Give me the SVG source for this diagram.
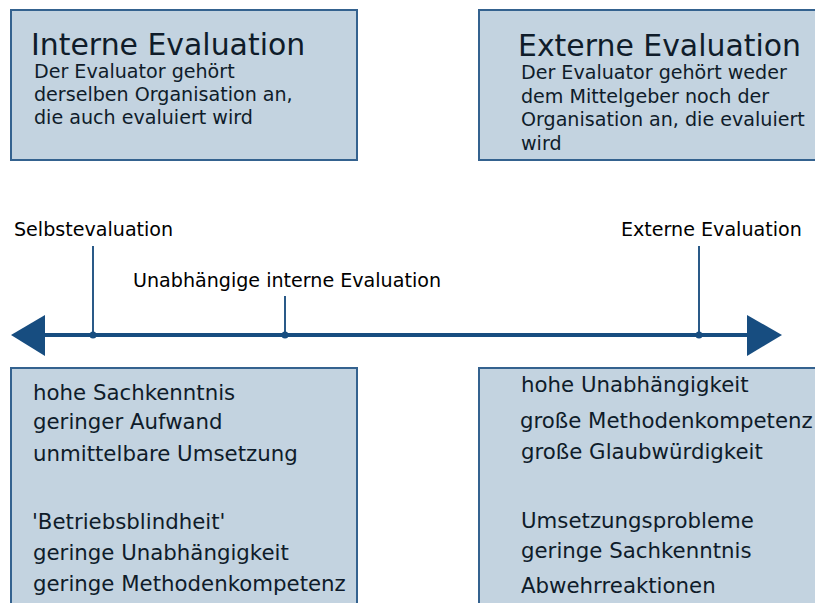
<svg xmlns="http://www.w3.org/2000/svg" width="815" height="603" viewBox="0 0 815 603">
<style>
.box{fill:#c3d3e0;stroke:#34628f;stroke-width:2}
.t{font-family:"DejaVu Sans",sans-serif;fill:#0f1c2a}
.title{font-size:29.9px}
.body{font-size:19.1px}
.lst{font-size:21.3px}
.lbl{font-family:"DejaVu Sans",sans-serif;font-size:19.1px;fill:#000}
.tick{stroke:#2a5a88;stroke-width:2}
</style>
<rect width="815" height="603" fill="#fff"/>
<g id="interne">
<rect class="box" x="11" y="10" width="346" height="150"/>
<text class="t title" x="31" y="55">Interne Evaluation</text>
<text class="t body" x="34" y="78">Der Evaluator gehört</text>
<text class="t body" x="34" y="101">derselben Organisation an,</text>
<text class="t body" x="34" y="124">die auch evaluiert wird</text>
</g>
<g id="externe">
<rect class="box" x="479" y="10" width="345" height="150"/>
<text class="t title" x="518" y="56">Externe Evaluation</text>
<text class="t body" x="521" y="79">Der Evaluator gehört weder</text>
<text class="t body" x="521" y="103">dem Mittelgeber noch der</text>
<text class="t body" x="521" y="126">Organisation an, die evaluiert</text>
<text class="t body" x="521" y="150">wird</text>
</g>
<g id="connectors">
<line x1="40" y1="335" x2="752" y2="335" stroke="#174d80" stroke-width="4"/>
<polygon points="11,335 45,315 45,356" fill="#174d80"/>
<polygon points="782,335 747,315 747,356" fill="#174d80"/>
<line class="tick" x1="93" y1="246" x2="93" y2="335"/>
<line class="tick" x1="285" y1="296" x2="285" y2="335"/>
<line class="tick" x1="699" y1="246" x2="699" y2="335"/>
<circle cx="93" cy="335" r="3.5" fill="#174d80"/>
<circle cx="285" cy="335" r="3.5" fill="#174d80"/>
<circle cx="699" cy="335" r="3.5" fill="#174d80"/>
</g>
<g id="selbst"><text class="lbl" x="14" y="236">Selbstevaluation</text></g>
<g id="unabh"><text class="lbl" x="133" y="287">Unabhängige interne Evaluation</text></g>
<g id="ext"><text class="lbl" x="621" y="236">Externe Evaluation</text></g>
<g id="vorteile-intern">
<rect class="box" x="11" y="368" width="346" height="250"/>
<text class="t lst" x="33" y="400">hohe Sachkenntnis</text>
<text class="t lst" x="33" y="429">geringer Aufwand</text>
<text class="t lst" x="33" y="461">unmittelbare Umsetzung</text>
<text class="t lst" x="32" y="529">'Betriebsblindheit'</text>
<text class="t lst" x="33" y="560">geringe Unabhängigkeit</text>
<text class="t lst" x="33" y="591">geringe Methodenkompetenz</text>
</g>
<g id="vorteile-extern">
<rect class="box" x="479" y="368" width="345" height="250"/>
<text class="t lst" x="521" y="392">hohe Unabhängigkeit</text>
<text class="t lst" x="520" y="428">große Methodenkompetenz</text>
<text class="t lst" x="521" y="459">große Glaubwürdigkeit</text>
<text class="t lst" x="521" y="528">Umsetzungsprobleme</text>
<text class="t lst" x="521" y="558">geringe Sachkenntnis</text>
<text class="t lst" x="521" y="593">Abwehrreaktionen</text>
</g>
</svg>
